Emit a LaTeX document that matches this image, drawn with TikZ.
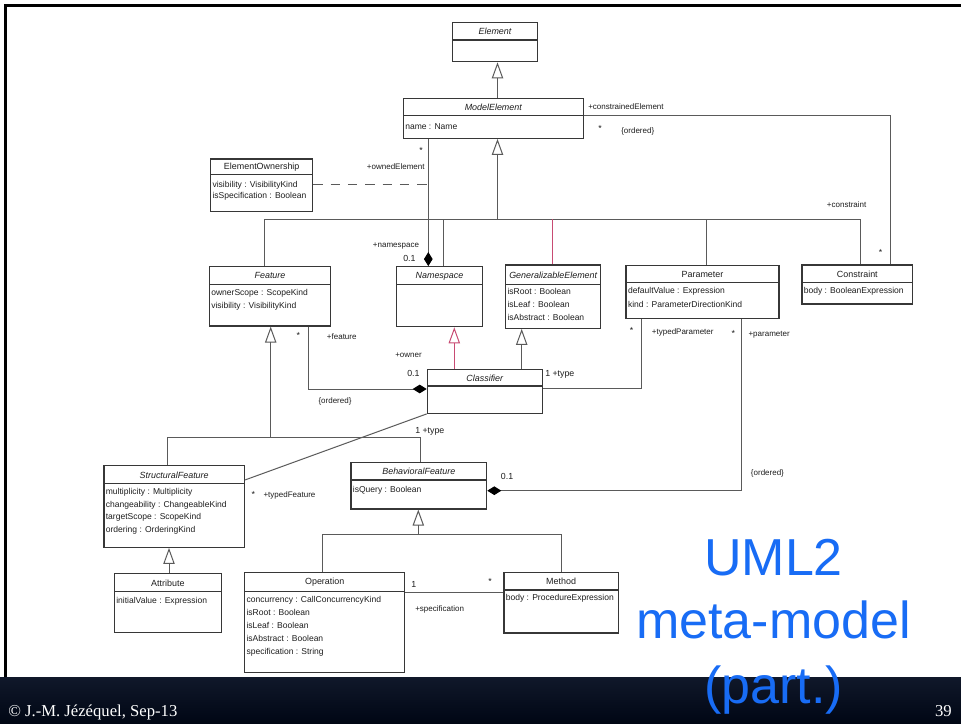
\documentclass[tikz,border=0pt]{standalone}
\usepackage{fontspec}
\setmainfont{Liberation Sans}
\newfontfamily\footserif{Liberation Serif}
\usetikzlibrary{arrows.meta,fit,calc}

\definecolor{umlline}{RGB}{90,90,90}
\definecolor{umlbox}{RGB}{55,55,55}
\definecolor{umltext}{RGB}{30,30,30}
\definecolor{umlred}{RGB}{200,75,115}
\definecolor{titleblue}{RGB}{24,108,245}
\definecolor{footertop}{RGB}{16,24,42}
\definecolor{footerbot}{RGB}{0,6,20}

\tikzset{
  classbox/.style={draw=umlbox, line width=0.9pt, inner sep=0pt},
  compline/.style={draw=umlbox, line width=0.8pt},
  classname/.style={font=\fontsize{6.7}{8}\selectfont, text=umltext, inner sep=0pt},
  abstractname/.style={font=\fontsize{6.7}{8}\selectfont\itshape, text=umltext, inner sep=0pt},
  attr/.style={font=\fontsize{6.4}{8}\selectfont, text=umltext, inner sep=0pt, anchor=base west},
  role/.style={font=\fontsize{6}{7}\selectfont, text=umltext, inner sep=0pt, anchor=base west},
  mult/.style={font=\fontsize{6.6}{8}\selectfont, text=umltext, inner sep=0pt, anchor=base west},
  star/.style={font=\fontsize{6.6}{8}\selectfont, text=umltext, inner sep=0pt},
  link/.style={draw=umlline, line width=0.75pt},
  genlink/.style={link, -{Triangle[open, length=12pt, width=8.5pt]}},
  complink/.style={link, -{Diamond[length=10.5pt, width=6.5pt, fill=black, color=black]}},
  bigtitle/.style={font=\fontsize{39}{46}\selectfont, text=titleblue, inner sep=0pt, anchor=base},
  foot/.style={font=\footserif\fontsize{12.5}{14}\selectfont, text=white, inner sep=0pt},
}

% class box: name, x1, y1, x2, y2, divider y, title style, title
\newcommand\umlclass[8]{%
  \node[classbox, fit={(#2,#3) (#4,#5)}] (#1) {};
  \draw[compline] (#2,#6) -- (#4,#6);
  \node[#7] (#1-title) at ({(#2+#4)/2},{(#3+#6)/2+0.4}) {#8};
}
% attribute line: name, x, baseline y, text
\newcommand\umlattr[4]{\node[attr] (#1) at (#2,#3) {#4};}

\begin{document}
\begin{tikzpicture}[x=0.75pt, y=-0.75pt]
\useasboundingbox (0,0) rectangle (961,724);
\fill[white] (0,0) rectangle (961,724);

% slide frame and footer band
\shade[top color=footertop, bottom color=footerbot] (0,677) rectangle (961,724);
\draw[line width=2pt, black] (5.3,677) -- (5.3,5.3) -- (961,5.3);

% ---------------- classes ----------------
\umlclass{element}{452.7}{22.7}{537.3}{61.7}{40}{abstractname}{Element}
\umlclass{modelelement}{403.3}{98.3}{583.3}{138.3}{115.7}{abstractname}{ModelElement}
\umlattr{me-a1}{405}{130}{name : Name}

\umlclass{elemown}{210.7}{159}{312.7}{211.7}{174.3}{classname}{ElementOwnership}
\umlattr{eo-a1}{212.3}{187.3}{visibility : VisibilityKind}
\umlattr{eo-a2}{212.3}{198.3}{isSpecification : Boolean}

\umlclass{feature}{209.3}{266.7}{330.7}{326}{284.3}{abstractname}{Feature}
\umlattr{fe-a1}{211}{295.7}{ownerScope : ScopeKind}
\umlattr{fe-a2}{211}{308}{visibility : VisibilityKind}

\umlclass{namespace}{396.7}{266.7}{482.3}{326.7}{284.3}{abstractname}{Namespace}

\umlclass{genelem}{505.7}{265}{600.7}{328.3}{284.3}{abstractname}{GeneralizableElement}
\umlattr{ge-a1}{507.3}{294.7}{isRoot : Boolean}
\umlattr{ge-a2}{507.3}{307.5}{isLeaf : Boolean}
\umlattr{ge-a3}{507.3}{320}{isAbstract : Boolean}

\umlclass{parameter}{626}{265.7}{779}{318.3}{282.7}{classname}{Parameter}
\umlattr{pa-a1}{627.8}{293}{defaultValue : Expression}
\umlattr{pa-a2}{627.8}{307.3}{kind : ParameterDirectionKind}

\umlclass{constraint}{802}{265}{912.7}{304}{282.7}{classname}{Constraint}
\umlattr{co-a1}{803.5}{293}{body : BooleanExpression}

\umlclass{classifier}{427.3}{369.3}{542.3}{413.3}{386}{abstractname}{Classifier}

\umlclass{structfeat}{104}{465.7}{244.3}{547.3}{483.3}{abstractname}{StructuralFeature}
\umlattr{sf-a1}{105.6}{494.7}{multiplicity : Multiplicity}
\umlattr{sf-a2}{105.6}{507.3}{changeability : ChangeableKind}
\umlattr{sf-a3}{105.6}{519.8}{targetScope : ScopeKind}
\umlattr{sf-a4}{105.6}{532.6}{ordering : OrderingKind}

\umlclass{behavfeat}{351}{462.3}{486.7}{509}{480}{abstractname}{BehavioralFeature}
\umlattr{bf-a1}{352.6}{492.3}{isQuery : Boolean}

\umlclass{attribute}{114.5}{573.7}{221.2}{632.3}{591.7}{classname}{Attribute}
\umlattr{at-a1}{116}{603.3}{initialValue : Expression}

\umlclass{operation}{244.6}{572.7}{404.8}{672.6}{591.7}{classname}{Operation}
\umlattr{op-a1}{246.3}{602.6}{concurrency : CallConcurrencyKind}
\umlattr{op-a2}{246.3}{615.5}{isRoot : Boolean}
\umlattr{op-a3}{246.3}{628.4}{isLeaf : Boolean}
\umlattr{op-a4}{246.3}{641.3}{isAbstract : Boolean}
\umlattr{op-a5}{246.3}{654.2}{specification : String}

\umlclass{method}{504}{572.7}{618.2}{633}{590}{classname}{Method}
\umlattr{mt-a1}{505.6}{600.9}{body : ProcedureExpression}

% ---------------- bend points ----------------
\coordinate (elemX) at (497.5,0);
\coordinate (genME) at (497.5,219.3);
\coordinate (dropFeat) at (264,219.3);
\coordinate (dropNS) at (443.3,219.3);
\coordinate (dropGE) at (552.7,219.3);
\coordinate (dropPar) at (706.7,219.3);
\coordinate (dropCon) at (860.7,219.3);
\coordinate (ceBend) at (890,115.7);
\coordinate (oeX) at (428.3,0);
\coordinate (eoJoin) at (428.3,184.3);
\coordinate (clNS) at (454.3,0);
\coordinate (clGE) at (521.7,0);
\coordinate (fcBend) at (308.3,389);
\coordinate (cpBend) at (641,388.3);
\coordinate (sfY) at (0,480);
\coordinate (pbBend) at (741,490.7);
\coordinate (featGen) at (270.7,437.7);
\coordinate (dropSF) at (167.3,437.7);
\coordinate (dropBF) at (420,437.7);
\coordinate (attrX) at (169,0);
\coordinate (bfGen) at (418.3,534.3);
\coordinate (dropOp) at (322,534.3);
\coordinate (dropMe) at (561.4,534.3);
\coordinate (omY) at (0,592.3);

% ---------------- connectors ----------------
\draw[genlink] (modelelement.north -| elemX) -- (element.south -| elemX);

\draw[genlink] (genME) -- (modelelement.south -| genME);
\draw[link] (feature.north -| dropFeat) -- (dropFeat) -- (dropCon) -- (constraint.north -| dropCon);
\draw[link] (dropNS) -- (namespace.north -| dropNS);
\draw[link] (dropPar) -- (parameter.north -| dropPar);
\draw[link, draw=umlred] (dropGE) -- (genelem.north -| dropGE);

\draw[link] (modelelement.east |- ceBend) -- (ceBend) -- (constraint.north -| ceBend);
\draw[complink] (modelelement.south -| oeX) -- (namespace.north -| oeX);
\draw[link, dash pattern=on 7pt off 6pt] (elemown.east |- eoJoin) -- (eoJoin);

\draw[genlink, draw=umlred] (classifier.north -| clNS) -- (namespace.south -| clNS);
\draw[genlink] (classifier.north -| clGE) -- (genelem.south -| clGE);

\draw[complink] (feature.south -| fcBend) -- (fcBend) -- (classifier.west |- fcBend);
\draw[link] (classifier.east |- cpBend) -- (cpBend) -- (parameter.south -| cpBend);
\draw[link] (classifier.south west) -- (structfeat.east |- sfY);
\draw[complink] (parameter.south -| pbBend) -- (pbBend) -- (behavfeat.east |- pbBend);

\draw[genlink] (featGen) -- (feature.south -| featGen);
\draw[link] (structfeat.north -| dropSF) -- (dropSF) -- (dropBF) -- (behavfeat.north -| dropBF);
\draw[genlink] (attribute.north -| attrX) -- (structfeat.south -| attrX);

\draw[genlink] (bfGen) -- (behavfeat.south -| bfGen);
\draw[link] (operation.north -| dropOp) -- (dropOp) -- (dropMe) -- (method.north -| dropMe);
\draw[link] (operation.east |- omY) -- (method.west |- omY);

% ---------------- association ends ----------------
\node[role] (r-constrained) at (588,110) {+constrainedElement};
\node[star] (s-me1) at (600,128) {*};
\node[role] (o-me1) at (621,133) {\{ordered\}};
\node[star] (s-me2) at (421,150) {*};
\node[role] (r-owned) at (366.7,169) {+ownedElement};
\node[role] (r-constraint) at (826.7,207) {+constraint};
\node[star] (s-co) at (880.7,252.7) {*};
\node[role] (r-namespace) at (372.7,247.3) {+namespace};
\node[mult] (m-ns) at (403,261.5) {0.1};

\node[star] (s-fe) at (298.3,335) {*};
\node[role] (r-feature) at (326.7,339.7) {+feature};
\node[role] (r-owner) at (395,357.3) {+owner};
\node[mult] (m-cl) at (407,376.5) {0.1};
\node[role] (o-fe) at (318.3,403.7) {\{ordered\}};
\node[mult] (m-type1) at (545,376.5) {1 +type};

\node[star] (s-pa1) at (631.7,330) {*};
\node[role] (r-typedpar) at (651.7,334) {+typedParameter};
\node[star] (s-pa2) at (733.3,333.3) {*};
\node[role] (r-param) at (748.3,336.3) {+parameter};
\node[mult] (m-bf) at (500.7,479.2) {0.1};
\node[role] (o-pa) at (750.7,475.7) {\{ordered\}};

\node[mult] (m-type2) at (415,433.2) {1 +type};
\node[star] (s-sf) at (253.3,494) {*};
\node[role] (r-typedfeat) at (263.3,497) {+typedFeature};

\node[mult] (m-op) at (411,587.2) {1};
\node[star] (s-mt) at (490,581) {*};
\node[role] (r-spec) at (415,611.9) {+specification};

% ---------------- slide title and footer ----------------
\node[bigtitle] (t-uml) at (773.5,575) {UML2};
\node[bigtitle] (t-meta) at (773.5,638) {meta-model};
\node[bigtitle] (t-part) at (773.5,703) {(part.)};

\node[foot, anchor=base west] (credit) at (8,716) {© J.-M. Jézéquel, Sep-13};
\node[foot, anchor=base east] (pageno) at (952,716) {39};
\end{tikzpicture}
\end{document}
